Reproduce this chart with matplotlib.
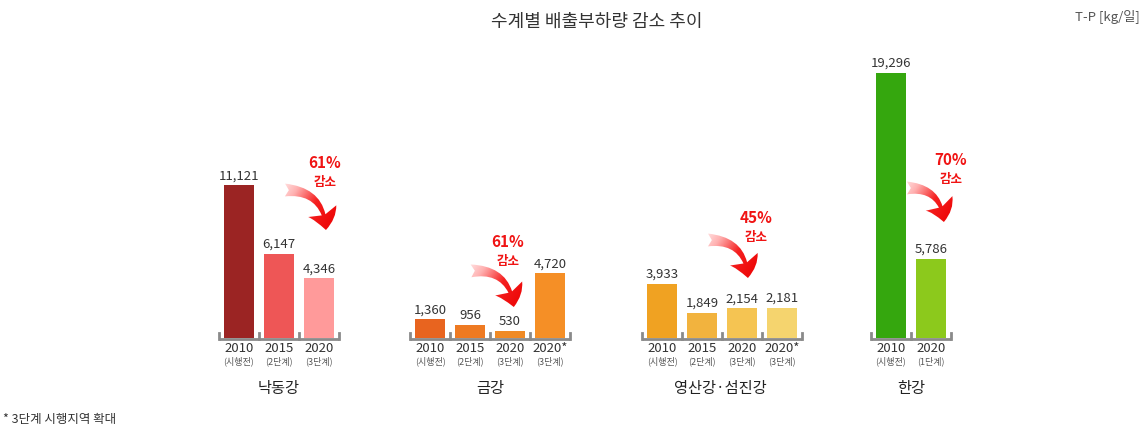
import matplotlib
matplotlib.use("Agg")
import numpy as np
import matplotlib.pyplot as plt
from matplotlib.patches import FancyArrowPatch
from matplotlib.colors import LinearSegmentedColormap

plt.rcParams['font.family'] = ['Noto Sans CJK KR', 'DejaVu Sans']

# data
groups = ["낙동강", "금강", "영산강·섬진강", "한강"]
years = [["2010", "2015", "2020"],
         ["2010", "2015", "2020", "2020*"],
         ["2010", "2015", "2020", "2020*"],
         ["2010", "2020"]]
stages = [["(시행전)", "(2단계)", "(3단계)"],
          ["(시행전)", "(2단계)", "(3단계)", "(3단계)"],
          ["(시행전)", "(2단계)", "(3단계)", "(3단계)"],
          ["(시행전)", "(1단계)"]]
values = [[11121, 6147, 4346],
          [1360, 956, 530, 4720],
          [3933, 1849, 2154, 2181],
          [19296, 5786]]
cuts = ["61%", "61%", "45%", "70%"]

colors = [["#9B2423", "#EE5656", "#FF9A9A"],
          ["#E8641F", "#EE7A22", "#F08A24", "#F58F26"],
          ["#F0A222", "#F2B33E", "#F5C452", "#F5D46E"],
          ["#35A70E", "#8CC91C"]]

W, H = 1144, 434
fig = plt.figure(figsize=(W / 100, H / 100), dpi=100)
ax = fig.add_axes([0, 0, 1, 1])
ax.axis("off")

base = 338      # pixel row of the baseline
top = 73        # pixel row of the largest bar
k = (base - top) / max(max(v) for v in values)
ylo, yhi = -(H - base) / k, base / k


def py(p):
    # pixel row -> data y
    return (base - p) / k


starts = [239, 430, 662, 891]   # centre of first bar of each group
step = 40
bw = 30
labx = [279, 490, 720, 911]

for g in range(len(groups)):
    xs = [starts[g] + step * i for i in range(len(values[g]))]
    ax.bar(xs, values[g], width=bw, color=colors[g], zorder=2)
    for x, v in zip(xs, values[g]):
        ax.text(x, v + py(base - 3), f"{v:,}", ha="center", va="bottom",
                fontsize=9.5, color="#333333")
    # baseline with small ticks
    x0 = xs[0] - step / 2
    x1 = xs[-1] + step / 2
    ax.plot([x0, x1], [py(base + 1), py(base + 1)], color="#8a8a8a", lw=2,
            solid_capstyle="butt", zorder=3)
    for i in range(len(xs) + 1):
        xt = x0 + step * i
        ax.plot([xt, xt], [py(base + 1), py(base - 5)], color="#8a8a8a", lw=2, zorder=3)
    for x, yr, st in zip(xs, years[g], stages[g]):
        ax.text(x, py(349), yr, ha="center", va="center", fontsize=9.5, color="#333333")
        ax.text(x, py(361), st, ha="center", va="center", fontsize=6.5, color="#555555")
    ax.text(labx[g], py(388), groups[g], ha="center", va="center",
            fontsize=11, color="#222222")

# reduction labels and gradient arrows
grad = LinearSegmentedColormap.from_list("fade", ["#ffffff", "#ffb0b0", "#f52020", "#ee0a0a"])
cut_pos = [(325, 163), (508, 242), (756, 218), (951, 160)]
arrows = [((283, 190), (326, 232)), ((469, 271), (514, 309)),
          ((706, 240), (748, 280)), ((905, 188), (944, 224))]
for c, (x, y), (a, b) in zip(cuts, cut_pos, arrows):
    ax.text(x, py(y), c, ha="center", va="center", fontsize=11,
            color="#F01414", fontweight="bold")
    ax.text(x, py(y + 20), "감소", ha="center", va="center", fontsize=9,
            color="#F01414", fontweight="bold")
    arr = FancyArrowPatch((a[0], py(a[1])), (b[0], py(b[1])),
                          connectionstyle="arc3,rad=-0.5",
                          arrowstyle="fancy,head_width=1.9,head_length=1.2,tail_width=0.8",
                          mutation_scale=16, lw=0, visible=False)
    ax.add_patch(arr)
    gx, gy = np.meshgrid(np.linspace(0, 1, 60), np.linspace(0, 1, 60))
    img = ax.imshow(0.75 * gx + 0.45 * gy, cmap=grad, vmin=0, vmax=0.85,
                    extent=(a[0] - 5, b[0] + 25, py(b[1] + 10), py(a[1] - 15)),
                    origin="upper", aspect="auto", zorder=4, interpolation="bilinear")
    img.set_clip_path(arr)

ax.set_xlim(0, W)
ax.set_ylim(ylo, yhi)

ax.text(597, py(22), "수계별 배출부하량 감소 추이", ha="center", va="center",
        fontsize=13, color="#333333")
ax.text(1140, py(17), "T-P [kg/일]", ha="right", va="center",
        fontsize=9.5, color="#555555")
ax.text(3, py(420), "* 3단계 시행지역 확대", ha="left", va="center",
        fontsize=9, color="#333333")

fig.savefig("out.png", dpi=100, facecolor="white")
